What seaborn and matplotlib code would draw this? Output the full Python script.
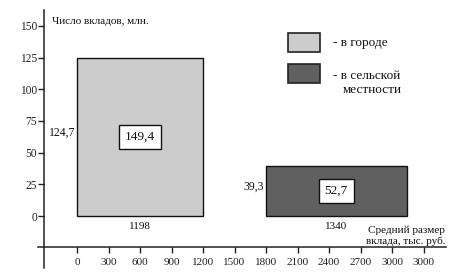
import matplotlib
matplotlib.use("Agg")
import matplotlib.pyplot as plt
import seaborn as sns
from matplotlib.patches import Rectangle
from matplotlib import transforms

# ---- data ----
groups = ["в городе", "в сельской местности"]
x_start = [0, 1800]            # left edge of each block (avg deposit scale)
avg_size = [1198, 1340]        # block widths, тыс. руб.
deposits = [124.7, 39.3]       # block heights, млн.
totals = [149.4, 52.7]         # value shown inside block
colors = ["#cccccc", "#606060"]
y_ticks = [0, 25, 50, 75, 100, 125, 150]
x_ticks = [0, 300, 600, 900, 1200, 1500, 1800, 2100, 2400, 2700, 3000, 3300]
x_tick_labels = ["0", "300", "600", "900", "1200", "1500", "1800", "2100",
                 "2400", "2700", "3000", "3000"]

sns.set_theme(style="white")
plt.rcParams["font.family"] = ["Liberation Serif", "DejaVu Serif"]

W, H = 467, 275
fig = plt.figure(figsize=(W / 100, H / 100), dpi=100)

# pixel layout helpers
px_per_x = 0.105
px_per_y = 1.267
x0_px, y0_px = 77, 216
def dx(px):
    return (px - x0_px) / px_per_x
def dy(py):
    return (y0_px - py) / px_per_y

L, R, T, B = 30, 460, 5, 272
ax = fig.add_axes([L / W, 1 - B / H, (R - L) / W, (B - T) / H])
ax.set_xlim(dx(L), dx(R))
ax.set_ylim(dy(B), dy(T))
ax.patch.set_alpha(0)

for s in ["top", "right"]:
    ax.spines[s].set_visible(False)
ax.spines["left"].set_position(("data", dx(44)))
ax.spines["left"].set_bounds(dy(268), dy(10))
ax.spines["bottom"].set_position(("data", dy(247)))
ax.spines["bottom"].set_bounds(dx(38), dx(446))
for s in ["left", "bottom"]:
    ax.spines[s].set_color("#222222")
    ax.spines[s].set_linewidth(1.1)

ax.set_yticks(y_ticks)
ax.set_yticklabels([str(v) for v in y_ticks])
ax.set_xticks(x_ticks)
ax.set_xticklabels(x_tick_labels)
ax.tick_params(axis="y", direction="out", length=4, width=1, pad=1,
               labelsize=8.3, colors="#222222", left=True)
ax.tick_params(axis="x", direction="out", length=4, width=1, pad=4,
               labelsize=8, colors="#222222", bottom=True)
ax.grid(False)

# blocks
ax.bar(x_start, deposits, width=avg_size, align="edge", color=colors,
       edgecolor="#111111", linewidth=1.0, zorder=2)

off_up = transforms.offset_copy(ax.transData, fig=fig, x=0, y=4, units="dots")
off_down = transforms.offset_copy(ax.transData, fig=fig, x=0, y=-10, units="dots")
off_left = transforms.offset_copy(ax.transData, fig=fig, x=-2, y=4, units="dots")
for xs, w, h, t in zip(x_start, avg_size, deposits, totals):
    cx = xs + w / 2
    ax.text(cx, h / 2, f"{t:.1f}".replace(".", ","), ha="center", va="center",
            fontsize=9.6, color="#111111", zorder=3,
            bbox=dict(boxstyle="square,pad=0.45", facecolor="white",
                      edgecolor="#111111", linewidth=1.0))
    ax.text(xs, h / 2, f"{h:.1f}".replace(".", ","), ha="right", va="center",
            fontsize=8.5, color="#111111", transform=off_left)
    ax.text(cx, 0, str(w), ha="center", va="center", fontsize=8,
            color="#111111", transform=off_down)

# axis titles
fig.text(52 / W, 1 - 22 / H, "Число вкладов, млн.", ha="left", va="center",
         fontsize=8, color="#111111")
fig.text(406 / W, 1 - 236 / H, "Средний размер\nвклада, тыс. руб.",
         ha="center", va="center", fontsize=8, color="#111111",
         linespacing=1.15)

# legend (manual)
leg_y = [33, 64]
for (ytop, c) in zip(leg_y, colors):
    fig.patches.append(Rectangle((288 / W, 1 - (ytop + 19) / H), 32 / W, 19 / H,
                                 transform=fig.transFigure, facecolor=c,
                                 edgecolor="#222222", linewidth=1.2))
fig.text(333 / W, 1 - 43 / H, "- " + groups[0], ha="left", va="center",
         fontsize=9.5, color="#111111")
fig.text(333 / W, 1 - 76 / H, "- в сельской", ha="left", va="center",
         fontsize=9.5, color="#111111")
fig.text(343 / W, 1 - 90 / H, "местности", ha="left", va="center",
         fontsize=9.5, color="#111111")

fig.savefig("out.png", dpi=100)
